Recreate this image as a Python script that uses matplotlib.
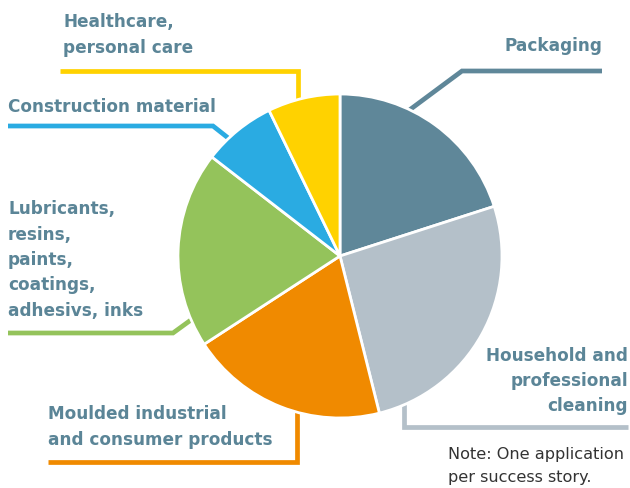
import matplotlib.pyplot as plt

# share of success stories per application field
labels = [
    "Packaging",
    "Household and\nprofessional\ncleaning",
    "Moulded industrial\nand consumer products",
    "Lubricants,\nresins,\npaints,\ncoatings,\nadhesivs, inks",
    "Construction material",
    "Healthcare,\npersonal care",
]
shares = [20, 26, 19.7, 19.6, 7.3, 7.2]
colors = ["#5f8799", "#b4c0c9", "#f08a00", "#94c35b", "#2aabe2", "#ffd200"]

text_color = "#5b8597"
H = 489  # figure height in px, used to flip y


def py(y):
    return H - y


fig = plt.figure(figsize=(6.3, 4.89), dpi=100)
ax = fig.add_axes([0, 0, 1, 1])

wedges, _ = ax.pie(
    shares,
    colors=colors,
    startangle=90,
    counterclock=False,
    center=(340, py(257)),
    radius=162,
    wedgeprops=dict(edgecolor="white", linewidth=2.0),
    frame=True,
)
for w in wedges:
    w.set_zorder(3)
ax.set_xlim(0, 630)
ax.set_ylim(0, H)
ax.set_aspect("equal")
ax.axis("off")

# leader lines (x, y in px from top)
leaders = [
    ([602, 462, 400], [72, 72, 118], colors[0]),
    ([628, 404, 404], [428, 428, 395], colors[1]),
    ([48, 297, 297], [463, 463, 405], colors[2]),
    ([8, 173, 195], [334, 334, 318], colors[3]),
    ([8, 213, 232], [127, 127, 142], colors[4]),
    ([60, 298, 298], [72, 72, 105], colors[5]),
]
for xs, ys, c in leaders:
    ax.plot(xs, [py(y) for y in ys], color=c, lw=3.4, solid_capstyle="butt",
            solid_joinstyle="miter", zorder=2)

font = dict(color=text_color, fontsize=12.2, fontweight="bold",
            family="DejaVu Sans", linespacing=1.52)

ax.text(602, py(46), labels[0], ha="right", va="center", **font)
ax.text(628, py(381), labels[1], ha="right", va="center", multialignment="right", **font)
ax.text(48, py(427), labels[2], ha="left", va="center", **font)
ax.text(8, py(260), labels[3], ha="left", va="center", **font)
ax.text(8, py(107), labels[4], ha="left", va="center", **font)
ax.text(63, py(35), labels[5], ha="left", va="center", **font)

ax.text(448, py(466), "Note: One application\nper success story.", ha="left",
        va="center", color="#333333", fontsize=11.6, family="DejaVu Sans",
        linespacing=1.6)

fig.savefig("out.png", dpi=100)
